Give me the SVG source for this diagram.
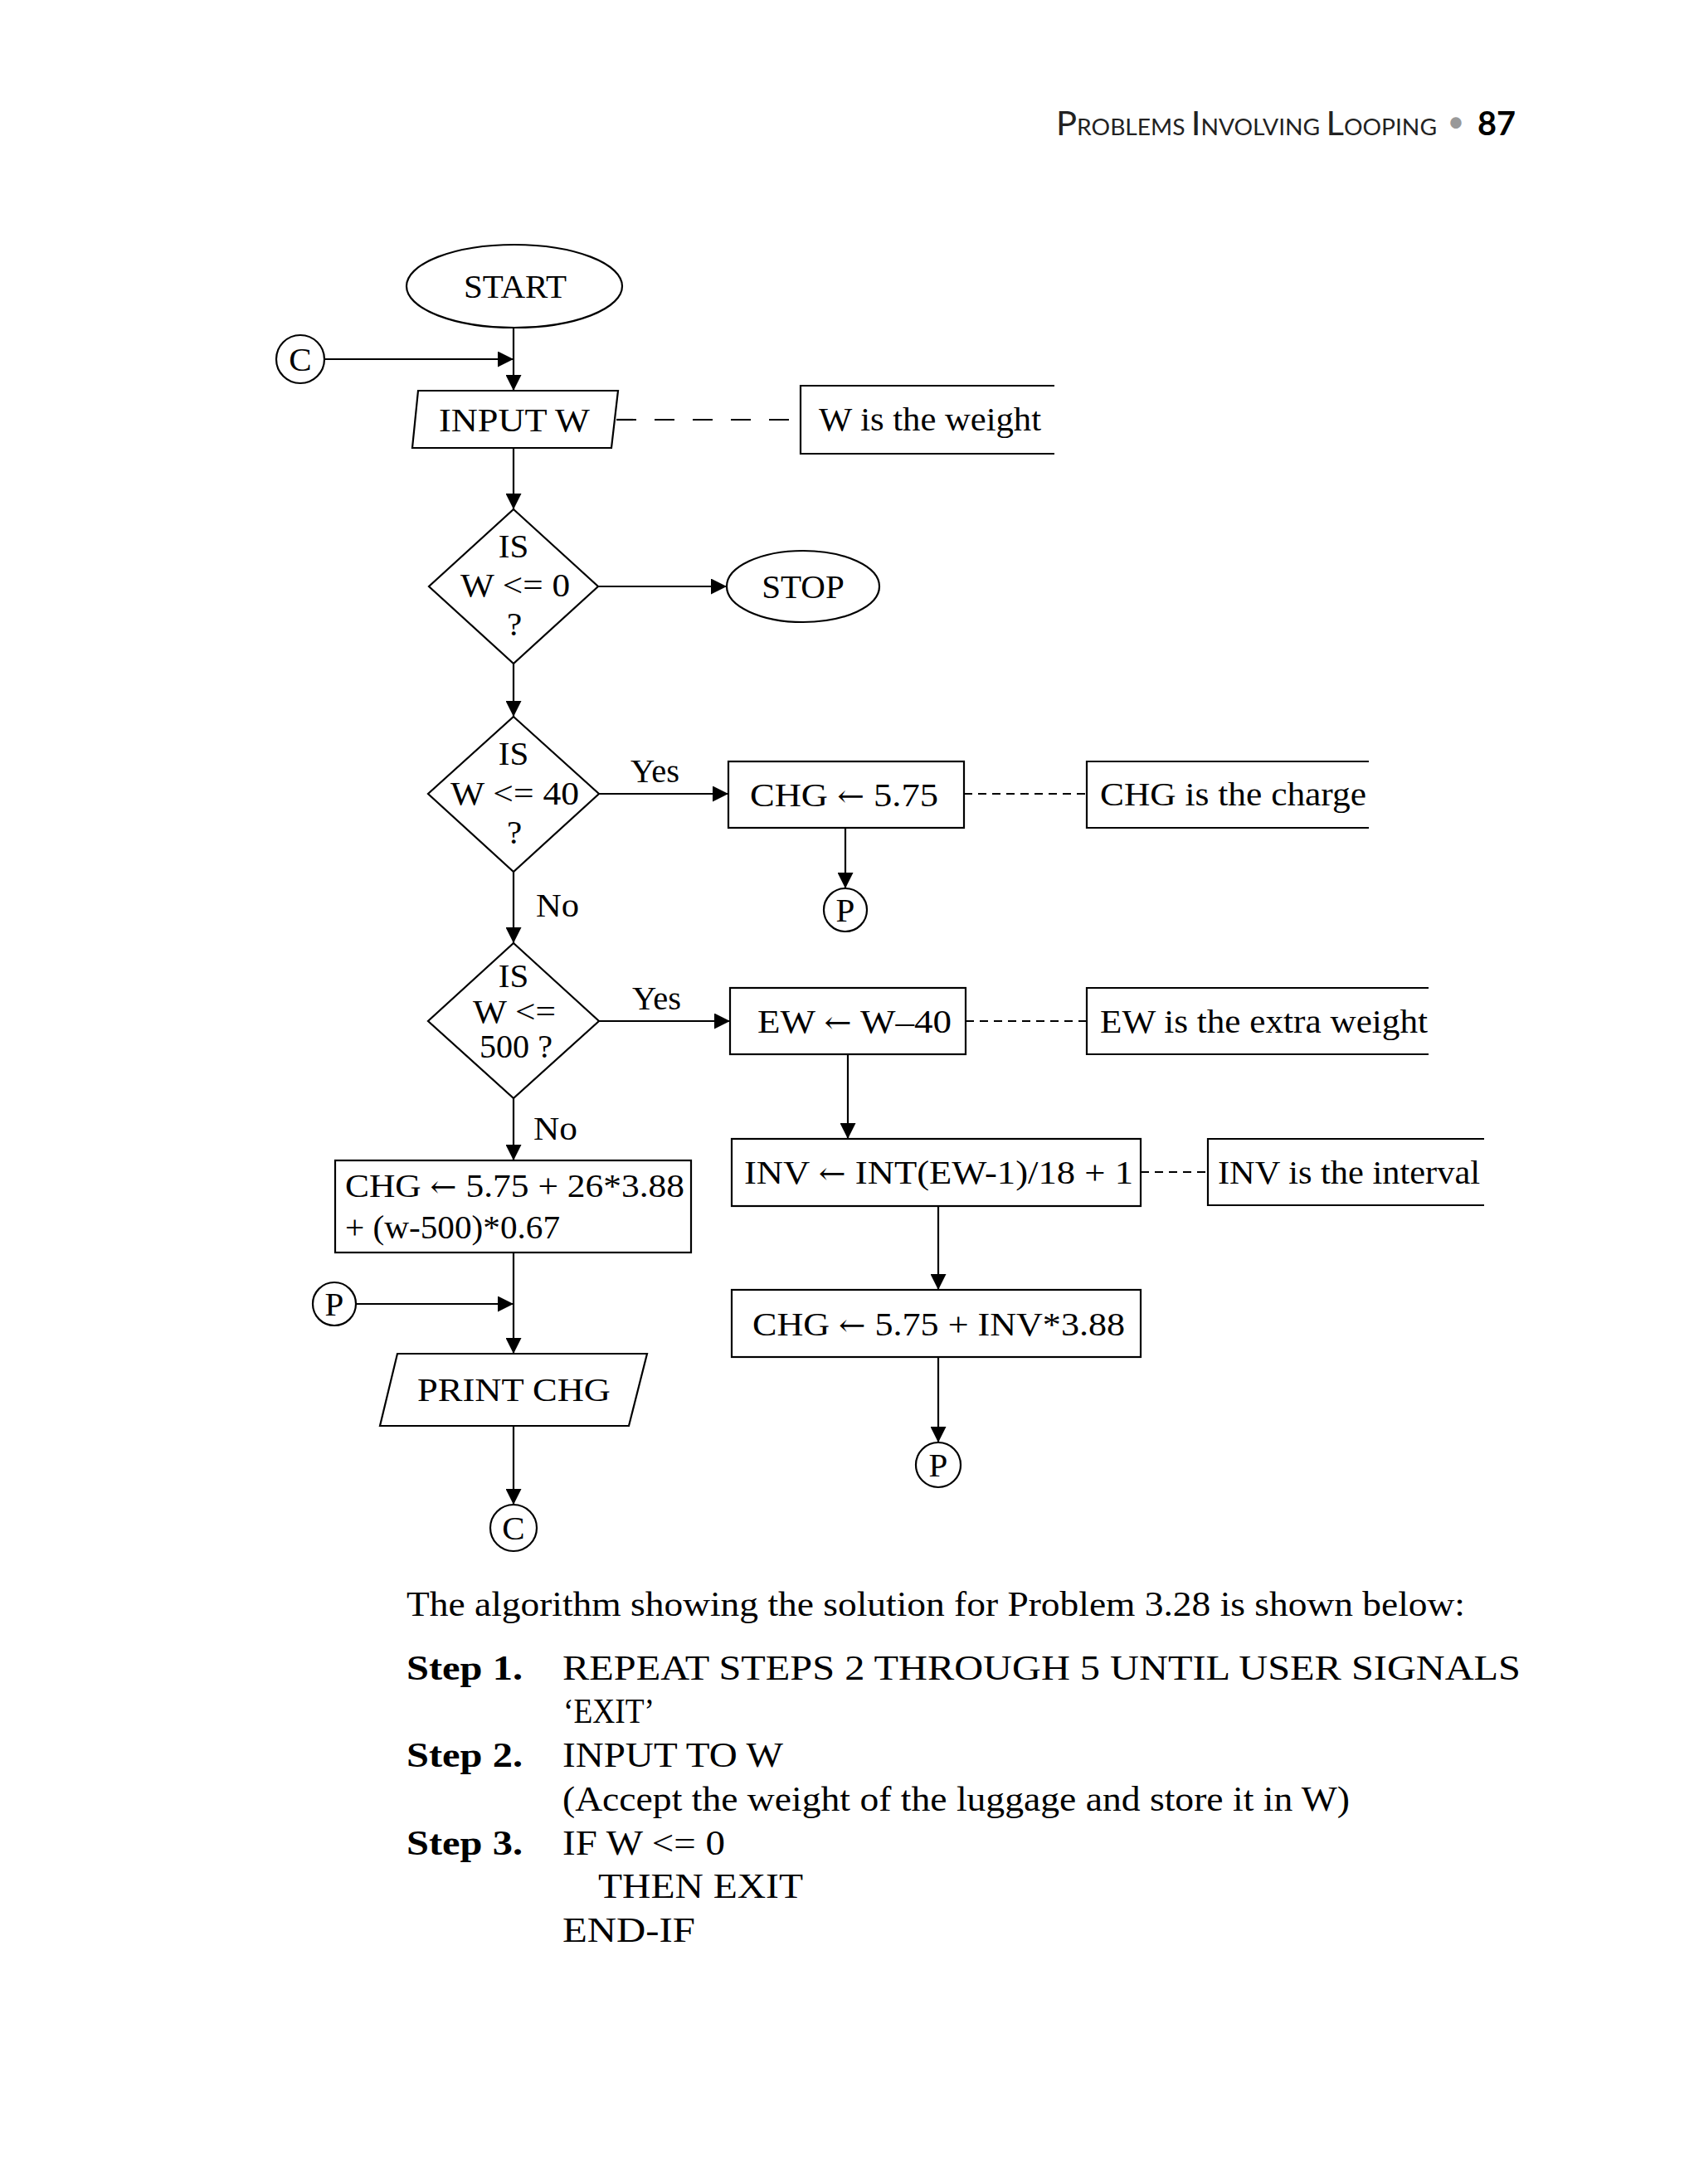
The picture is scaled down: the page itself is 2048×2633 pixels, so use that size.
<svg xmlns="http://www.w3.org/2000/svg" width="2048" height="2633" viewBox="0 0 2048 2633">
<style>
.s{fill:#fff;stroke:#000;stroke-width:2.2}
.n{fill:none;stroke:#000;stroke-width:2.2}
.l{fill:none;stroke:#000;stroke-width:2.2}
.d1{fill:none;stroke:#000;stroke-width:2.2;stroke-dasharray:24 22}
.d2{fill:none;stroke:#000;stroke-width:2.2;stroke-dasharray:10 7}
.t{font-family:"Liberation Serif","Times New Roman",serif;font-size:41px;fill:#000}
.c{text-anchor:middle}
.b{font-family:"Liberation Serif","Times New Roman",serif;font-size:43px;fill:#000}
.bb{font-weight:bold}
.h{font-family:Lato,"Open Sans","Noto Sans",sans-serif;fill:#222}
.ar{font-family:"DejaVu Serif","DejaVu Sans",serif;font-size:36px}
</style>
<defs>
<marker id="ah" markerWidth="19" markerHeight="19" refX="19" refY="9.5" orient="auto" markerUnits="userSpaceOnUse">
<path d="M0,0 L19,9.5 L0,19 z" fill="#000"/>
</marker>
</defs>
<rect width="2048" height="2633" fill="#fff"/>

<g id="header">
<text class="h" x="1273" y="163" textLength="459" lengthAdjust="spacingAndGlyphs"><tspan font-size="40">P</tspan><tspan font-size="27">ROBLEMS </tspan><tspan font-size="40">I</tspan><tspan font-size="27">NVOLVING </tspan><tspan font-size="40">L</tspan><tspan font-size="27">OOPING</tspan></text>
<text class="h" x="1755" y="159" font-size="36" text-anchor="middle" style="fill:#999">•</text>
<text class="h" x="1781" y="163" font-size="41" font-weight="bold" style="fill:#000" textLength="46" lengthAdjust="spacingAndGlyphs">87</text>
</g>

<g id="connectors">
<line class="l" x1="619" y1="395" x2="619" y2="471" marker-end="url(#ah)"/>
<line class="l" x1="391" y1="433" x2="619" y2="433" marker-end="url(#ah)"/>
<line class="l" x1="619" y1="540" x2="619" y2="614" marker-end="url(#ah)"/>
<line class="l" x1="721" y1="707" x2="876" y2="707" marker-end="url(#ah)"/>
<line class="l" x1="619" y1="800" x2="619" y2="864" marker-end="url(#ah)"/>
<line class="l" x1="722" y1="957" x2="878" y2="957" marker-end="url(#ah)"/>
<line class="l" x1="1019" y1="998" x2="1019" y2="1071" marker-end="url(#ah)"/>
<line class="l" x1="619" y1="1051" x2="619" y2="1137" marker-end="url(#ah)"/>
<line class="l" x1="722" y1="1231" x2="880" y2="1231" marker-end="url(#ah)"/>
<line class="l" x1="1022" y1="1271" x2="1022" y2="1373" marker-end="url(#ah)"/>
<line class="l" x1="1131" y1="1454" x2="1131" y2="1555" marker-end="url(#ah)"/>
<line class="l" x1="1131" y1="1636" x2="1131" y2="1739" marker-end="url(#ah)"/>
<line class="l" x1="619" y1="1324" x2="619" y2="1399" marker-end="url(#ah)"/>
<line class="l" x1="619" y1="1510" x2="619" y2="1632" marker-end="url(#ah)"/>
<line class="l" x1="429" y1="1572" x2="619" y2="1572" marker-end="url(#ah)"/>
<line class="l" x1="619" y1="1719" x2="619" y2="1814" marker-end="url(#ah)"/>
<line class="d1" x1="741" y1="506" x2="965" y2="506" stroke-dashoffset="-2"/>
<line class="d2" x1="1162" y1="957" x2="1310" y2="957"/>
<line class="d2" x1="1164" y1="1231" x2="1310" y2="1231"/>
<line class="d2" x1="1375" y1="1413" x2="1456" y2="1413"/>
<text class="t" x="760" y="943" textLength="59" lengthAdjust="spacingAndGlyphs">Yes</text>
<text class="t" x="762" y="1217" textLength="59" lengthAdjust="spacingAndGlyphs">Yes</text>
<text class="t" x="646" y="1105" textLength="52" lengthAdjust="spacingAndGlyphs">No</text>
<text class="t" x="643" y="1374" textLength="53" lengthAdjust="spacingAndGlyphs">No</text>
</g>

<g id="start">
<ellipse class="s" cx="620" cy="345" rx="130" ry="50"/>
<text class="t c" x="621" y="359">START</text>
</g>

<g id="conn-c-top">
<circle class="s" cx="362" cy="433" r="29"/>
<text class="t c" x="362" y="447">C</text>
</g>

<g id="input-w">
<polygon class="s" points="504,471 745,471 737,540 497,540"/>
<text class="t" x="529" y="520" textLength="182" lengthAdjust="spacingAndGlyphs">INPUT W</text>
</g>

<g id="note-w">
<path class="n" d="M1271,465 H965 V547 H1271"/>
<text class="t" x="987" y="519" textLength="268" lengthAdjust="spacingAndGlyphs">W is the weight</text>
</g>

<g id="dec-w0">
<polygon class="s" points="619,614 721,707 619,800 517,707"/>
<text class="t c" x="619" y="672">IS</text>
<text class="t" x="555" y="719" textLength="132" lengthAdjust="spacingAndGlyphs">W &lt;= 0</text>
<text class="t c" x="620" y="766">?</text>
</g>

<g id="stop">
<ellipse class="s" cx="968" cy="707" rx="92" ry="43"/>
<text class="t c" x="968" y="721">STOP</text>
</g>

<g id="dec-w40">
<polygon class="s" points="619,864 722,957 619,1051 516,957"/>
<text class="t c" x="619" y="922">IS</text>
<text class="t" x="543" y="970" textLength="155" lengthAdjust="spacingAndGlyphs">W &lt;= 40</text>
<text class="t c" x="620" y="1017">?</text>
</g>

<g id="chg-575">
<rect class="s" x="878" y="918" width="284" height="80"/>
<text class="t" x="904" y="972" textLength="227" lengthAdjust="spacingAndGlyphs">CHG <tspan class="ar">←</tspan> 5.75</text>
</g>

<g id="note-chg">
<path class="n" d="M1650,918 H1310 V998 H1650"/>
<text class="t" x="1326" y="971" textLength="321" lengthAdjust="spacingAndGlyphs">CHG is the charge</text>
</g>

<g id="conn-p1">
<circle class="s" cx="1019" cy="1097" r="26"/>
<text class="t c" x="1019" y="1111">P</text>
</g>

<g id="dec-w500">
<polygon class="s" points="619,1137 722,1231 619,1324 516,1231"/>
<text class="t c" x="619" y="1190">IS</text>
<text class="t" x="570" y="1233" textLength="100" lengthAdjust="spacingAndGlyphs">W &lt;=</text>
<text class="t" x="578" y="1275" textLength="88" lengthAdjust="spacingAndGlyphs">500 ?</text>
</g>

<g id="ew">
<rect class="s" x="880" y="1191" width="284" height="80"/>
<text class="t" x="913" y="1245" textLength="234" lengthAdjust="spacingAndGlyphs">EW <tspan class="ar">←</tspan> W–40</text>
</g>

<g id="note-ew">
<path class="n" d="M1722,1191 H1310 V1271 H1722"/>
<text class="t" x="1326" y="1245" textLength="395" lengthAdjust="spacingAndGlyphs">EW is the extra weight</text>
</g>

<g id="inv">
<rect class="s" x="882" y="1373" width="493" height="81"/>
<text class="t" x="897" y="1427" textLength="469" lengthAdjust="spacingAndGlyphs">INV <tspan class="ar">←</tspan> INT(EW-1)/18 + 1</text>
</g>

<g id="note-inv">
<path class="n" d="M1789,1373 H1456 V1453 H1789"/>
<text class="t" x="1468" y="1427" textLength="316" lengthAdjust="spacingAndGlyphs">INV is the interval</text>
</g>

<g id="chg-inv">
<rect class="s" x="882" y="1555" width="493" height="81"/>
<text class="t" x="907" y="1610" textLength="449" lengthAdjust="spacingAndGlyphs">CHG <tspan class="ar">←</tspan> 5.75 + INV*3.88</text>
</g>

<g id="conn-p2">
<circle class="s" cx="1131" cy="1766" r="27"/>
<text class="t c" x="1131" y="1780">P</text>
</g>

<g id="chg-big">
<rect class="s" x="404" y="1399" width="429" height="111"/>
<text class="t" x="416" y="1443" textLength="409" lengthAdjust="spacingAndGlyphs">CHG <tspan class="ar">←</tspan> 5.75 + 26*3.88</text>
<text class="t" x="416" y="1493" textLength="259" lengthAdjust="spacingAndGlyphs">+ (w-500)*0.67</text>
</g>

<g id="conn-p3">
<circle class="s" cx="403" cy="1572" r="26"/>
<text class="t c" x="403" y="1586">P</text>
</g>

<g id="print">
<polygon class="s" points="479,1632 780,1632 758,1719 458,1719"/>
<text class="t" x="503" y="1689" textLength="233" lengthAdjust="spacingAndGlyphs">PRINT CHG</text>
</g>

<g id="conn-c-bottom">
<circle class="s" cx="619" cy="1842" r="28"/>
<text class="t c" x="619" y="1856">C</text>
</g>

<g id="body">
<text class="b" x="490" y="1948" textLength="1276" lengthAdjust="spacingAndGlyphs">The algorithm showing the solution for Problem 3.28 is shown below:</text>
<text class="b bb" x="490" y="2025" textLength="140" lengthAdjust="spacingAndGlyphs">Step 1.</text>
<text class="b" x="678" y="2025" textLength="1155" lengthAdjust="spacingAndGlyphs">REPEAT STEPS 2 THROUGH 5 UNTIL USER SIGNALS</text>
<text class="b" x="679" y="2077" textLength="110" lengthAdjust="spacingAndGlyphs">‘EXIT’</text>
<text class="b bb" x="490" y="2130" textLength="140" lengthAdjust="spacingAndGlyphs">Step 2.</text>
<text class="b" x="678" y="2130" textLength="266" lengthAdjust="spacingAndGlyphs">INPUT TO W</text>
<text class="b" x="678" y="2183" textLength="949" lengthAdjust="spacingAndGlyphs">(Accept the weight of the luggage and store it in W)</text>
<text class="b bb" x="490" y="2236" textLength="140" lengthAdjust="spacingAndGlyphs">Step 3.</text>
<text class="b" x="678" y="2236" textLength="196" lengthAdjust="spacingAndGlyphs">IF W &lt;= 0</text>
<text class="b" x="721" y="2288" textLength="247" lengthAdjust="spacingAndGlyphs">THEN EXIT</text>
<text class="b" x="678" y="2341" textLength="160" lengthAdjust="spacingAndGlyphs">END-IF</text>
</g>
</svg>
